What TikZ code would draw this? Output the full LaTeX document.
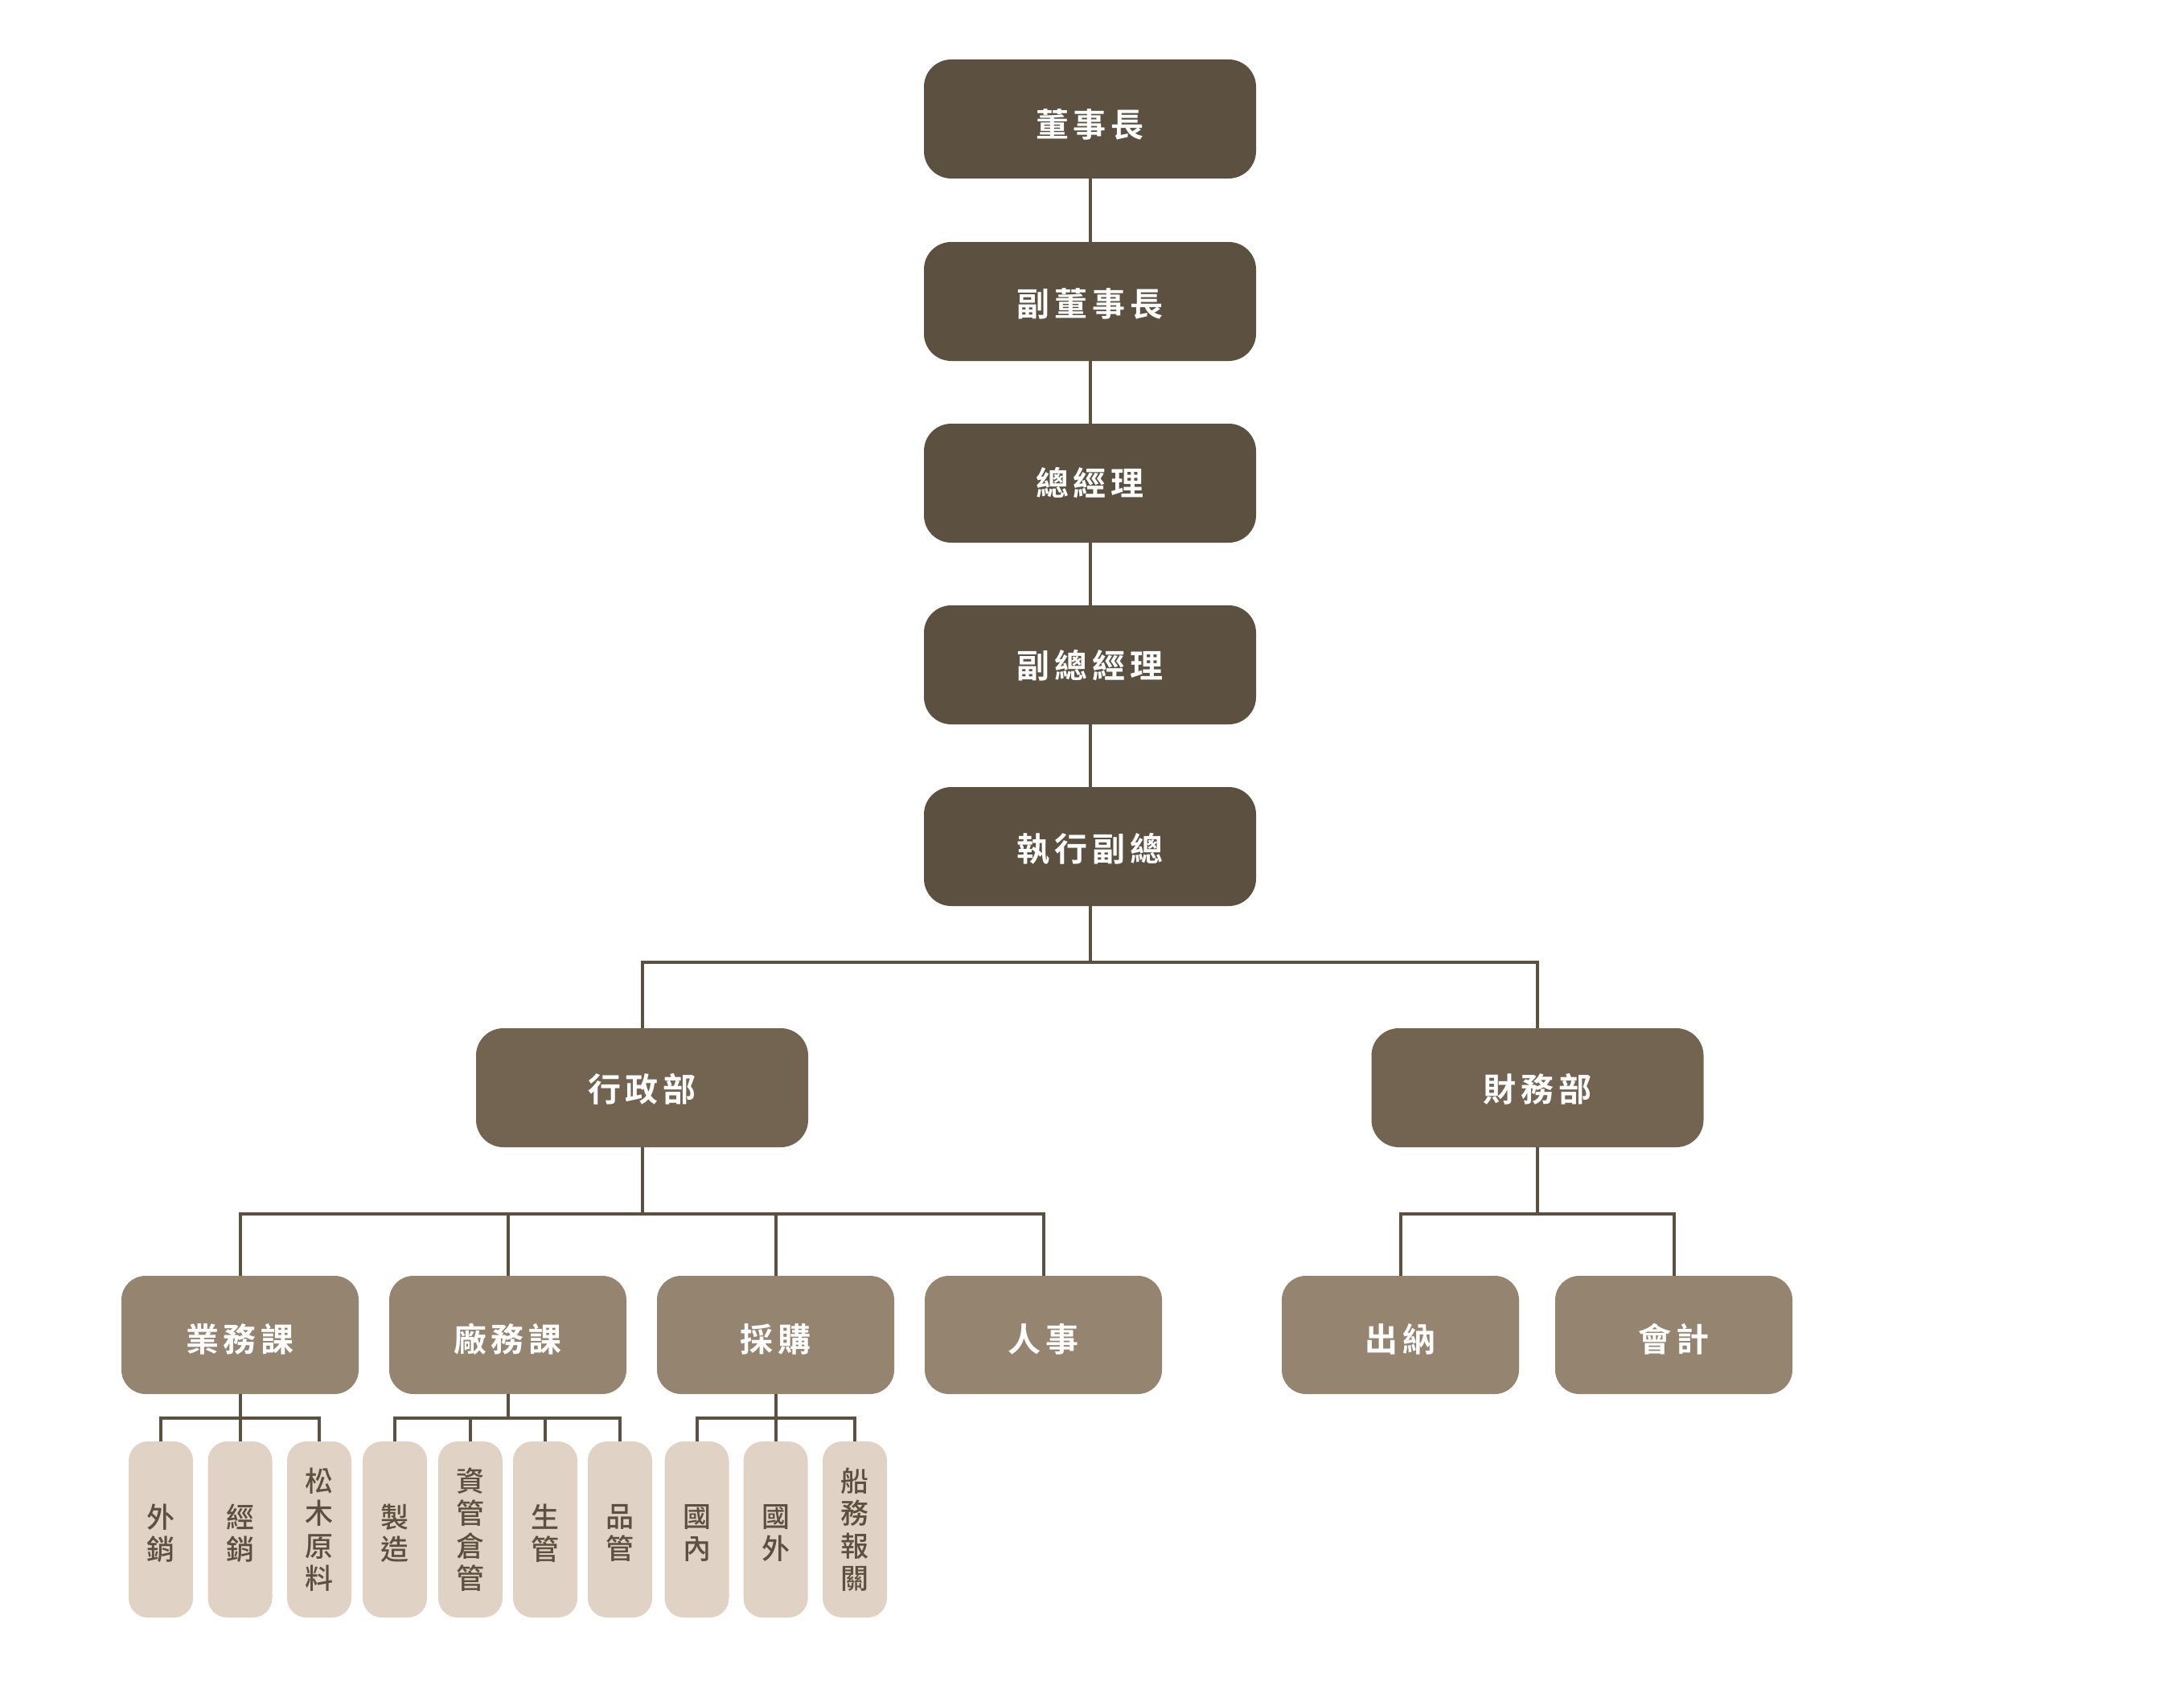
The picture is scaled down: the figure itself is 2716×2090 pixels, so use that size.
\documentclass[tikz,border=0pt]{standalone}
\usepackage{fontspec}
\newfontfamily\cjkB[LetterSpace=14]{Noto Sans CJK TC Bold}
\newfontfamily\cjkR{Noto Sans CJK TC Medium}
\definecolor{cdark}{HTML}{5C5040}
\definecolor{cmid}{HTML}{736451}
\definecolor{clight}{HTML}{958470}
\definecolor{cpale}{HTML}{E0D2C4}
\newcommand\lowtxt[2]{\raisebox{-#1pt}[\height][\depth]{#2}}
\tikzset{
  base/.style={inner sep=0pt, outer sep=0pt, text=white, font=\cjkB\fontsize{41}{48}\selectfont},
  lvtop/.style={base, fill=cdark, rounded corners=34pt, minimum width=413pt, minimum height=148pt},
  lvdept/.style={base, fill=cmid, rounded corners=34pt, minimum width=413pt, minimum height=148pt},
  lvsec/.style={base, fill=clight, rounded corners=30pt, minimum width=295pt, minimum height=147pt},
  lvunit/.style={inner sep=0pt, outer sep=0pt, fill=cpale, rounded corners=24pt, minimum width=80pt, minimum height=219pt},
  unittxt/.style={inner sep=0pt, text=cdark, align=center, font=\cjkR\fontsize{35}{40.5}\selectfont},
  conn/.style={draw=cdark, line width=4pt}
}
\begin{document}
\begin{tikzpicture}[x=1pt,y=-1pt]
\useasboundingbox (0,0) rectangle (2716,2090);
\fill[white] (0,0) rectangle (2716,2090);
% top column
\node[lvtop] (n1) at (1355.5,148) {\lowtxt{7}{董事長}};
\node[lvtop] (n2) at (1355.5,375) {\lowtxt{3}{副董事長}};
\node[lvtop] (n3) at (1355.5,601) {\lowtxt{0}{總經理}};
\node[lvtop] (n4) at (1355.5,827) {\lowtxt{0.5}{副總經理}};
\node[lvtop] (n5) at (1355.5,1053) {\lowtxt{3}{執行副總}};
% departments
\node[lvdept] (xz) at (798.5,1353) {\lowtxt{2}{行政部}};
\node[lvdept] (cw) at (1912,1353) {\lowtxt{2}{財務部}};
% sections
\node[lvsec] (yw) at (298.5,1660.5) {\lowtxt{5.5}{業務課}};
\node[lvsec] (cwk) at (631.5,1660.5) {\lowtxt{5.5}{廠務課}};
\node[lvsec] (cg) at (964.5,1660.5) {\lowtxt{5.5}{採購}};
\node[lvsec] (rs) at (1297.5,1660.5) {\lowtxt{5.5}{人事}};
\node[lvsec] (cn) at (1741.5,1660.5) {\lowtxt{5.5}{出納}};
\node[lvsec] (kj) at (2081.5,1660.5) {\lowtxt{5.5}{會計}};
% units
\node[lvunit] (s1) at (200,1902.5) {};
\node[lvunit] (s2) at (298.5,1902.5) {};
\node[lvunit] (s3) at (397,1902.5) {};
\node[lvunit] (s4) at (491,1902.5) {};
\node[lvunit] (s5) at (585,1902.5) {};
\node[lvunit] (s6) at (678,1902.5) {};
\node[lvunit] (s7) at (771,1902.5) {};
\node[lvunit] (s8) at (866.5,1902.5) {};
\node[lvunit] (s9) at (964.5,1902.5) {};
\node[lvunit] (s10) at (1063,1902.5) {};
\node[unittxt] (t1) at ([yshift=-4.5pt]s1.center) {外\\銷};
\node[unittxt] (t2) at ([yshift=-4.5pt]s2.center) {經\\銷};
\node[unittxt] (t3) at (s3.center) {松\\木\\原\\料};
\node[unittxt] (t4) at ([yshift=-4.5pt]s4.center) {製\\造};
\node[unittxt] (t5) at (s5.center) {資\\管\\倉\\管};
\node[unittxt] (t6) at ([yshift=-4.5pt]s6.center) {生\\管};
\node[unittxt] (t7) at ([yshift=-4.5pt]s7.center) {品\\管};
\node[unittxt] (t8) at ([yshift=-4.5pt]s8.center) {國\\內};
\node[unittxt] (t9) at ([yshift=-4.5pt]s9.center) {國\\外};
\node[unittxt] (t10) at (s10.center) {船\\務\\報\\關};
% bar levels
\coordinate (b1) at (0,1197);
\coordinate (b2) at (0,1510);
\coordinate (b3) at (0,1764);
% connectors, top column
\draw[conn] (n1.south) -- (n2.north);
\draw[conn] (n2.south) -- (n3.north);
\draw[conn] (n3.south) -- (n4.north);
\draw[conn] (n4.south) -- (n5.north);
% to departments
\draw[conn] (n5.south) -- (n5.south |- b1);
\draw[conn] (xz.north) -- (xz.north |- b1) -- (cw.north |- b1) -- (cw.north);
% admin to sections
\draw[conn] (xz.south) -- (xz.south |- b2);
\draw[conn] (yw.north) -- (yw.north |- b2) -- (rs.north |- b2) -- (rs.north);
\draw[conn] (cwk.north) -- (cwk.north |- b2);
\draw[conn] (cg.north) -- (cg.north |- b2);
% finance to sections
\draw[conn] (cw.south) -- (cw.south |- b2);
\draw[conn] (cn.north) -- (cn.north |- b2) -- (kj.north |- b2) -- (kj.north);
% sales units
\draw[conn] (yw.south) -- (s2.north);
\draw[conn] (s1.north) -- (s1.north |- b3) -- (s3.north |- b3) -- (s3.north);
% factory units
\draw[conn] (cwk.south) -- (cwk.south |- b3);
\draw[conn] (s4.north) -- (s4.north |- b3) -- (s7.north |- b3) -- (s7.north);
\draw[conn] (s5.north) -- (s5.north |- b3);
\draw[conn] (s6.north) -- (s6.north |- b3);
% purchasing units
\draw[conn] (cg.south) -- (s9.north);
\draw[conn] (s8.north) -- (s8.north |- b3) -- (s10.north |- b3) -- (s10.north);
\end{tikzpicture}
\end{document}
